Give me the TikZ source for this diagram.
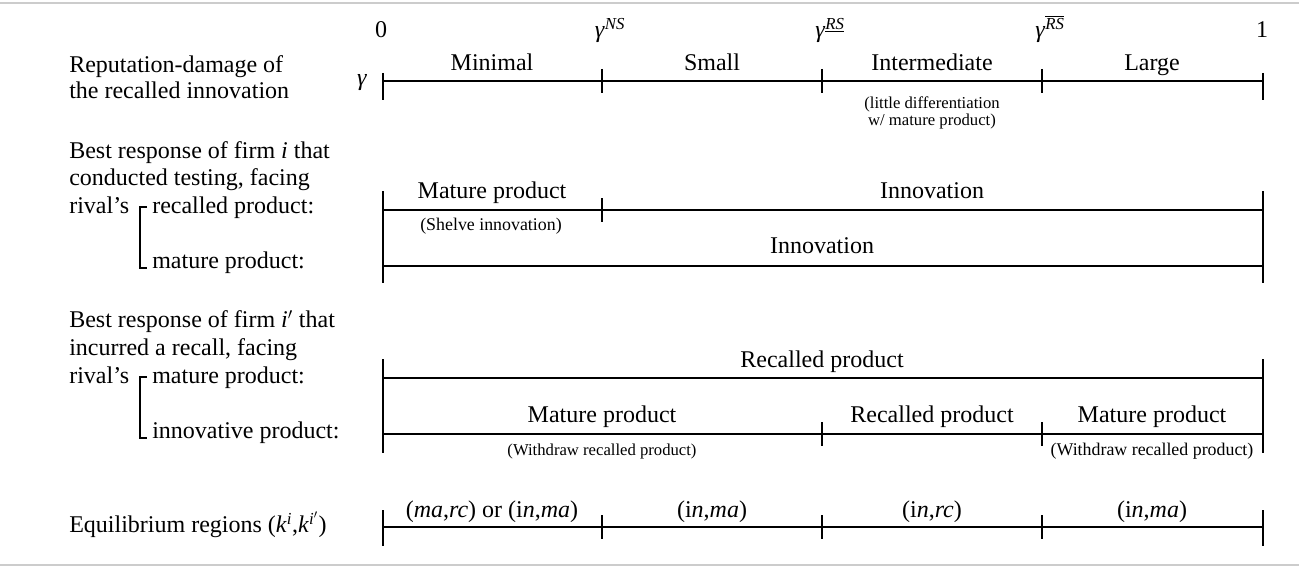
\documentclass[tikz,border=0pt]{standalone}
\usepackage{fontspec}
\setmainfont{Liberation Serif}
\newcommand{\gam}{\textit{γ}}
\begin{document}
\begin{tikzpicture}[x=0.75pt,y=-0.75pt,
  lab/.style={inner sep=0pt,font=\fontsize{18}{21}\selectfont,text height=12.2pt,text depth=4pt},
  lft/.style={lab,anchor=west},
  sml/.style={inner sep=0pt,font=\fontsize{12.5}{14}\selectfont,text height=8.5pt,text depth=2.8pt},
  smlb/.style={inner sep=0pt,font=\fontsize{13.4}{15}\selectfont,text height=9pt,text depth=3pt},
  axis/.style={line width=1.6pt},
  endtick/.style={line width=1.6pt},
  midtick/.style={line width=0.9pt},
  rulel/.style={line width=1.2pt,draw=black!20},
  brk/.style={line width=0.9pt}]
\useasboundingbox (0,0) rectangle (1299,567);
% grey rules
\coordinate (tl) at (0,3); \coordinate (tr) at (1299,3);
\coordinate (bl) at (0,565); \coordinate (br) at (1299,565);
\draw[rulel] (tl) -- (tr);
\draw[rulel] (bl) -- (br);
% header
\node[lab] (h0) at (381,32) {0};
\node[lab] (h1) at (610,32) {\gam\textsuperscript{\textit{NS}}};
\node[lab] (h2) at (830,32) {\gam\textsuperscript{\underline{\textit{RS}}}};
\node[lab] (h3) at (1050,32) {\gam\textsuperscript{$\overline{\mbox{\textit{RS}}}$}};
\node[lab] (h4) at (1262,32) {1};
% ---------- row 1
\node[lft] (l1a) at (69,67) {Reputation-damage of};
\node[lft] (l1b) at (69,93) {the recalled innovation};
\node[lab] (gam) at (362,80) {\gam};
\coordinate (a0) at (383,81); \coordinate (a1) at (602,81);
\coordinate (a2) at (822,81); \coordinate (a3) at (1042,81);
\coordinate (a4) at (1263,81);
\draw[axis] (a0) -- (a4);
\draw[endtick] (a0) ++(0,-8) -- ++(0,27);
\draw[endtick] (a4) ++(0,-8) -- ++(0,27);
\foreach \c in {a1,a2,a3} \draw[midtick] (\c) ++(0,-12) -- ++(0,24);
\node[lab] (r1a) at (492,65) {Minimal};
\node[lab] (r1b) at (712,65) {Small};
\node[lab] (r1c) at (932,65) {Intermediate};
\node[lab] (r1d) at (1152,65) {Large};
\node[sml] (r1e) at (932,105) {(little differentiation};
\node[sml] (r1f) at (932,122) {w/ mature product)};
% ---------- row 2
\node[lft] (l2a) at (69,153) {Best response of firm \textit{i} that};
\node[lft] (l2b) at (69,180) {conducted testing, facing};
\node[lft] (l2c) at (69,208) {rival’s};
\node[lft] (l2d) at (152,208) {recalled product:};
\node[lft] (l2e) at (152,263) {mature product:};
\coordinate (k1) at (147,207); \coordinate (k2) at (140,207);
\coordinate (k3) at (140,268); \coordinate (k4) at (147,268);
\draw[brk] (k1) -- (k2) -- (k3) -- (k4);
\coordinate (b0) at (383,210); \coordinate (b1) at (602,210);
\coordinate (b4) at (1263,210);
\coordinate (c0) at (383,266); \coordinate (c4) at (1263,266);
\draw[axis] (b0) -- (b4);
\draw[axis] (c0) -- (c4);
\draw[endtick] (b0) ++(0,-19) -- ++(0,92);
\draw[endtick] (b4) ++(0,-19) -- ++(0,92);
\draw[midtick] (b1) ++(0,-12) -- ++(0,24);
\node[lab] (r2a) at (492,193) {Mature product};
\node[smlb] (r2b) at (491,226) {(Shelve innovation)};
\node[lab] (r2c) at (932,193) {Innovation};
\node[lab] (r2d) at (822,248) {Innovation};
% ---------- row 3
\node[lft] (l3a) at (69,322) {Best response of firm \textit{i}$'$ that};
\node[lft] (l3b) at (69,350) {incurred a recall, facing};
\node[lft] (l3c) at (69,378) {rival’s};
\node[lft] (l3d) at (152,378) {mature product:};
\node[lft] (l3e) at (152,433) {innovative product:};
\coordinate (m1) at (147,377); \coordinate (m2) at (140,377);
\coordinate (m3) at (140,438); \coordinate (m4) at (147,438);
\draw[brk] (m1) -- (m2) -- (m3) -- (m4);
\coordinate (d0) at (383,378); \coordinate (d4) at (1263,378);
\coordinate (e0) at (383,434); \coordinate (e2) at (822,434);
\coordinate (e3) at (1042,434); \coordinate (e4) at (1263,434);
\draw[axis] (d0) -- (d4);
\draw[axis] (e0) -- (e4);
\draw[endtick] (d0) ++(0,-19) -- ++(0,94);
\draw[endtick] (d4) ++(0,-19) -- ++(0,94);
\foreach \c in {e2,e3} \draw[midtick] (\c) ++(0,-12) -- ++(0,24);
\node[lab] (r3a) at (822,362) {Recalled product};
\node[lab] (r3b) at (602,417) {Mature product};
\node[sml] (r3c) at (602,452) {(Withdraw recalled product)};
\node[lab] (r3d) at (932,417) {Recalled product};
\node[lab] (r3e) at (1152,417) {Mature product};
\node[smlb] (r3f) at (1152,451) {(Withdraw recalled product)};
% ---------- row 4
\node[lft] (l4) at (69,527) {Equilibrium regions (\textit{k}\textsuperscript{\textit{i}},\textit{k}\textsuperscript{\textit{i}$'$})};
\coordinate (f0) at (383,527); \coordinate (f1) at (602,527);
\coordinate (f2) at (822,527); \coordinate (f3) at (1042,527);
\coordinate (f4) at (1263,527);
\draw[axis] (f0) -- (f4);
\draw[endtick] (f0) ++(0,-17) -- ++(0,36);
\draw[endtick] (f4) ++(0,-17) -- ++(0,36);
\foreach \c in {f1,f2,f3} \draw[midtick] (\c) ++(0,-12) -- ++(0,24);
\node[lab] (r4a) at (492,512) {(\textit{ma},\textit{rc}) or (i\textit{n},\textit{ma})};
\node[lab] (r4b) at (712,512) {(i\textit{n},\textit{ma})};
\node[lab] (r4c) at (932,512) {(i\textit{n},\textit{rc})};
\node[lab] (r4d) at (1152,512) {(i\textit{n},\textit{ma})};
\end{tikzpicture}
\end{document}
